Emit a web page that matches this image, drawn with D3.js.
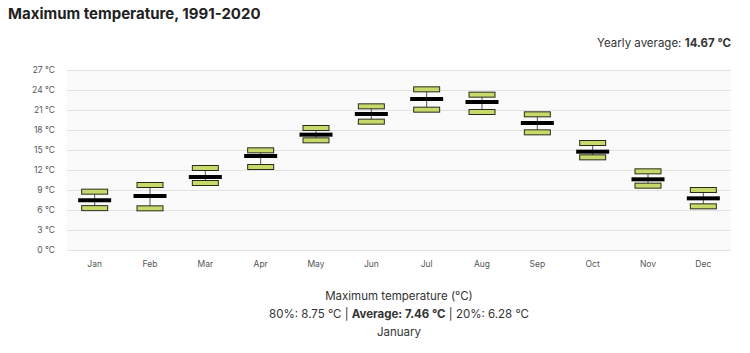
<!DOCTYPE html>
<html>
<head>
<meta charset="utf-8">
<script src="https://cdn.jsdelivr.net/npm/d3@7"></script>
<style>
  body { margin: 0; background: #fff; font-family: Inter, "Open Sans", sans-serif; }
  svg text { fill: #333; }
</style>
</head>
<body>
<div id="chart"></div>
<script>
// Monthly maximum temperature: 20th / 80th percentiles and average
const months = ['Jan', 'Feb', 'Mar', 'Apr', 'May', 'Jun', 'Jul', 'Aug', 'Sep', 'Oct', 'Nov', 'Dec'];
const p80 = [8.75, 9.75, 12.3, 14.95, 18.3, 21.55, 24.1, 23.3, 20.35, 16.05, 11.8, 9.0];
const avg = [7.46, 8.1, 10.95, 14.1, 17.3, 20.4, 22.65, 22.2, 19.05, 14.75, 10.6, 7.75];
const p20 = [6.28, 6.25, 10.05, 12.45, 16.45, 19.25, 21.05, 20.7, 17.65, 13.9, 9.65, 6.55];
const yTicks = [0, 3, 6, 9, 12, 15, 18, 21, 24, 27];

function initChart() {
    const W = 750, H = 353;
    const margin = { top: 70, right: 19, bottom: 103, left: 67 };
    const width = W - margin.left - margin.right;
    const height = H - margin.top - margin.bottom;

    const svg = d3.select('#chart').append('svg')
        .attr('width', W)
        .attr('height', H);

    // Title + yearly average
    svg.append('text')
        .attr('x', 8).attr('y', 19)
        .style('font-size', '15px').style('font-weight', 700)
        .style('fill', '#222')
        .text('Maximum temperature, 1991-2020');

    const ya = svg.append('text')
        .attr('x', 731).attr('y', 47)
        .attr('text-anchor', 'end')
        .style('font-size', '11.5px');
    ya.append('tspan').text('Yearly average: ');
    ya.append('tspan').style('font-weight', 700).text('14.67 °C');

    const g = svg.append('g')
        .attr('transform', `translate(${margin.left},${margin.top})`);

    const x = d3.scaleBand().domain(months).range([0, width]);
    const y = d3.scaleLinear().domain([0, 27]).range([height, 0]);

    // Plot background
    g.append('rect')
        .attr('width', width).attr('height', height)
        .attr('fill', '#fafafa');

    // Grid lines
    g.selectAll('.grid')
        .data(yTicks)
        .enter().append('line')
        .attr('class', 'grid')
        .attr('x1', 0).attr('x2', width)
        .attr('y1', d => Math.round(y(d)) + 0.5)
        .attr('y2', d => Math.round(y(d)) + 0.5)
        .attr('stroke', '#e2e2e2');

    // Y axis labels
    g.selectAll('.ylab')
        .data(yTicks)
        .enter().append('text')
        .attr('class', 'ylab')
        .attr('x', -12)
        .attr('y', d => y(d))
        .attr('dy', '0.35em')
        .attr('text-anchor', 'end')
        .style('font-size', '8.5px')
        .style('fill', '#555')
        .text(d => d + ' °C');

    // X axis labels
    g.selectAll('.xlab')
        .data(months)
        .enter().append('text')
        .attr('class', 'xlab')
        .attr('x', d => x(d) + x.bandwidth() / 2)
        .attr('y', height + 17)
        .attr('text-anchor', 'middle')
        .style('font-size', '8.5px')
        .style('fill', '#555')
        .text(d => d);

    const data = months.map((m, i) => ({ month: m, hi: p80[i], avg: avg[i], lo: p20[i] }));
    const cx = d => x(d.month) + x.bandwidth() / 2;
    const boxW = 26, boxH = 5, avgW = 33, avgH = 4;

    // Whiskers
    g.selectAll('.whisker')
        .data(data)
        .enter().append('line')
        .attr('class', 'whisker')
        .attr('x1', d => cx(d)).attr('x2', d => cx(d))
        .attr('y1', d => y(d.hi)).attr('y2', d => y(d.lo))
        .attr('stroke', '#555').attr('stroke-width', 1);

    // 80% / 20% bars
    ['hi', 'lo'].forEach(k => {
        g.selectAll('.box-' + k)
            .data(data)
            .enter().append('rect')
            .attr('class', 'box-' + k)
            .attr('x', d => cx(d) - boxW / 2)
            .attr('y', d => y(d[k]) - boxH / 2)
            .attr('width', boxW)
            .attr('height', boxH)
            .attr('fill', '#c6d96b')
            .attr('stroke', '#2a2a1a')
            .attr('stroke-width', 1);
    });

    // Average bars
    g.selectAll('.avg')
        .data(data)
        .enter().append('rect')
        .attr('class', 'avg')
        .attr('x', d => cx(d) - avgW / 2)
        .attr('y', d => y(d.avg) - avgH / 2)
        .attr('width', avgW)
        .attr('height', avgH)
        .attr('fill', '#000');

    // Bottom caption
    const mid = margin.left + width / 2;
    svg.append('text')
        .attr('x', mid).attr('y', 300)
        .attr('text-anchor', 'middle')
        .style('font-size', '11.5px')
        .text('Maximum temperature (°C)');

    const l2 = svg.append('text')
        .attr('x', mid).attr('y', 318)
        .attr('text-anchor', 'middle')
        .style('font-size', '11.5px');
    l2.append('tspan').text(`80%: ${p80[0]} °C | `);
    l2.append('tspan').style('font-weight', 700).text(`Average: ${avg[0]} °C`);
    l2.append('tspan').text(` | 20%: ${p20[0]} °C`);

    svg.append('text')
        .attr('x', mid).attr('y', 336)
        .attr('text-anchor', 'middle')
        .style('font-size', '11.5px')
        .text('January');
}

initChart();
</script>
</body>
</html>
